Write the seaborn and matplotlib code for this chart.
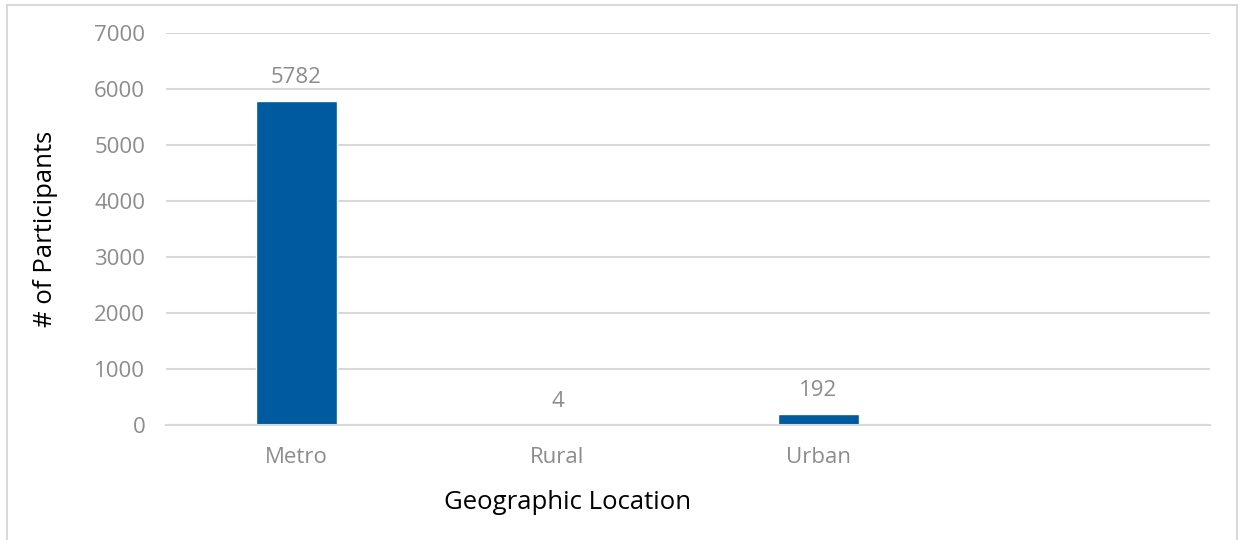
import matplotlib
matplotlib.use('Agg')
import pandas as pd
import matplotlib.pyplot as plt
import seaborn as sns
from matplotlib.patches import Rectangle

# values
locations = ['Metro', 'Rural', 'Urban', ' ']
participants = [5782, 4, 192, 0]
yticks = [0, 1000, 2000, 3000, 4000, 5000, 6000, 7000]

df = pd.DataFrame({'Location': locations, 'Participants': participants})

sns.set_style('white')
plt.rcParams['font.family'] = ['Open Sans', 'DejaVu Sans']

fig = plt.figure(figsize=(12.39, 5.40), dpi=100)
ax = fig.add_axes([0.134, 0.213, 0.8426, 0.7259])

bar_color = '#005A9E'
sns.barplot(data=df, x='Location', y='Participants', color=bar_color,
            width=0.31, saturation=1, ax=ax)

ax.set_ylim(0, 7000)
ax.set_xlim(-0.5, 3.5)
ax.set_yticks(yticks)
ax.yaxis.grid(True, color='#d9d9d9', linewidth=1.5)
ax.set_axisbelow(True)
for s in ['top', 'right', 'left']:
    ax.spines[s].set_visible(False)
ax.spines['bottom'].set_color('#d9d9d9')
ax.spines['bottom'].set_linewidth(1.5)
ax.tick_params(axis='both', length=0, labelsize=16, labelcolor='#8c8c8c')
ax.tick_params(axis='x', pad=16)
ax.tick_params(axis='y', pad=15)

# data labels (skip the empty slot)
for i, v in enumerate(participants[:3]):
    ax.text(i, v + 230, str(v), ha='center', va='bottom', fontsize=16, color='#8c8c8c')

ax.set_xlabel('Geographic Location', fontsize=18.5, color='black')
ax.set_ylabel('# of Participants', fontsize=18.5, color='black')
ax.xaxis.set_label_coords(0.385, -0.165)
ax.yaxis.set_label_coords(-0.103, 0.5)

# light frame around the chart area
fig.patches.append(Rectangle((7 / 1239, -0.02), 1230 / 1239, 1 - 5 / 540 + 0.02,
                             transform=fig.transFigure, fill=False,
                             edgecolor='#d9d9d9', linewidth=1.5))

fig.savefig('out.png', dpi=100)
